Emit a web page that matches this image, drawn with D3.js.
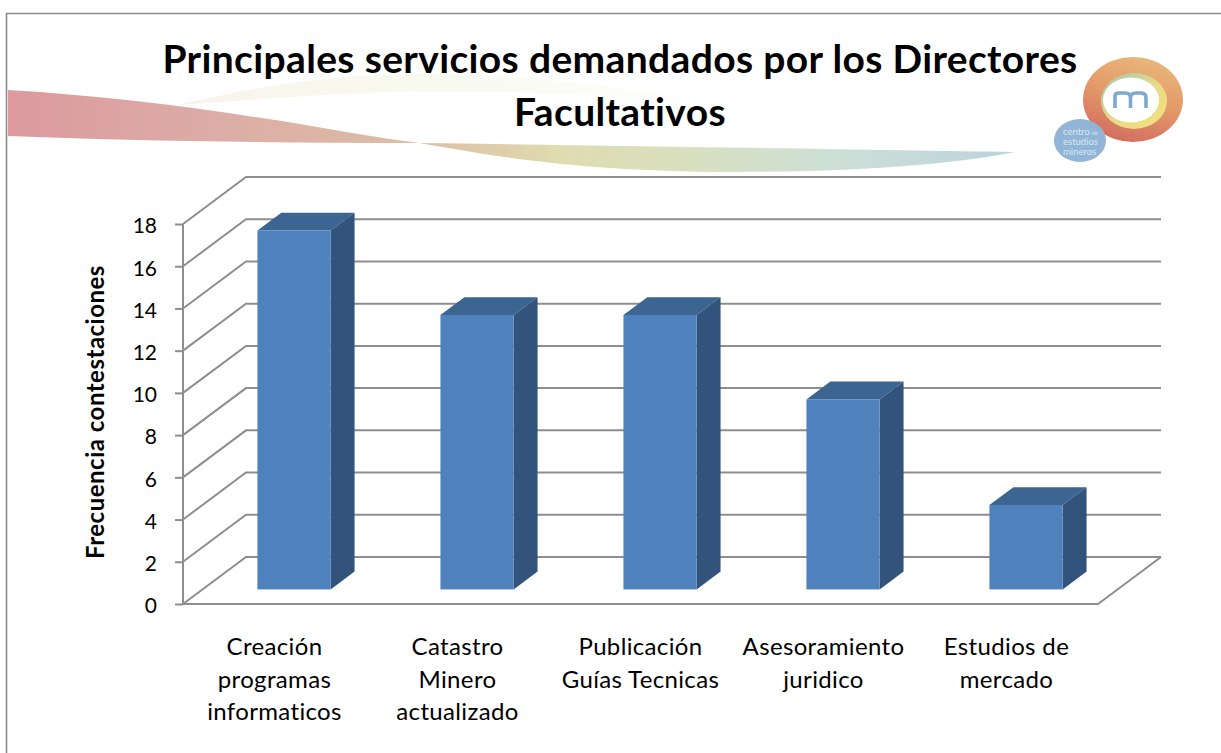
<!DOCTYPE html>
<html><head><meta charset="utf-8">
<style>html,body{margin:0;padding:0;background:#fff;overflow:hidden}svg{display:block}text{font-family:Lato,"Noto Sans",sans-serif;font-variant-ligatures:none}</style>
<script src="https://cdn.jsdelivr.net/npm/d3@7"></script>
</head><body>
<script>
const titleLines = ["Principales servicios demandados por los Directores","Facultativos"];
const yAxisTitle = "Frecuencia contestaciones";
const categories = [["Creación","programas","informaticos"],["Catastro","Minero","actualizado"],["Publicación","Guías Tecnicas"],["Asesoramiento","juridico"],["Estudios de","mercado"]];
const values = [17,13,13,9,4];
const yTicks = [0,2,4,6,8,10,12,14,16,18];
const logoLines = ["centro","estudios","mineros"];
const logoSmall = "de";

const W=1221,H=753;
const svg=d3.select("body").append("svg").attr("width",W).attr("height",H);
const defs=svg.append("defs");
function lg(id,stops,x2=1,y2=0,x1=0,y1=0){const g=defs.append("linearGradient").attr("id",id).attr("x1",x1).attr("y1",y1).attr("x2",x2).attr("y2",y2);stops.forEach(s=>g.append("stop").attr("offset",s[0]).attr("stop-color",s[1]));}
lg("rib",[[0,"#dc9a9e"],[.2,"#dcaca6"],[.4,"#ddbca4"],[.55,"#dfdcb0"],[.68,"#d8e0c0"],[.82,"#cddfd6"],[1,"#bcd3de"]]);
lg("pale",[[0,"#f8f4ec"],[.5,"#f8faf0"],[1,"#fdfefa"]]);
lg("ring",[[0,"#e9b57a"],[.45,"#e39a68"],[1,"#d26a60"]],.25,1,.6,0);
lg("inner",[[0,"#a8c8b0"],[.5,"#e8da88"],[1,"#f2e27c"]],1,1,.1,0);

// frame
svg.append("path").attr("d",`M6.5,${H} V13.5 H${W}`).attr("fill","none").attr("stroke","#8a8a8a").attr("stroke-width",1.6);

// background ribbon
svg.append("path").attr("fill","url(#pale)").attr("d","M178,105 C250,88 320,76 400,74 C500,72 600,84 700,100 C600,95 500,90 400,92 C320,94 250,100 178,105 Z");
svg.append("path").attr("fill","url(#rib)").attr("d","M8,90 C110,96 200,108 300,124 C340,131 380,138 419,143 C470,151 560,172 735,172 C850,172 950,165 1015,152 C880,150 650,146 419,143 C280,143 130,141 8,136 Z");

// logo
const logo=svg.append("g");
logo.append("ellipse").attr("cx",1133).attr("cy",99.5).attr("rx",50).attr("ry",42.5).attr("fill","url(#ring)");
logo.append("ellipse").attr("cx",1134).attr("cy",101).attr("rx",33).attr("ry",28).attr("fill","url(#inner)");
logo.append("ellipse").attr("cx",1131).attr("cy",100).attr("rx",28).attr("ry",22.5).attr("fill","#fff");
logo.append("path").attr("fill","none").attr("stroke","#7ea9cf").attr("stroke-width",3.6)
 .attr("d","M1115,108 V96 Q1115,93 1119,93 H1125 Q1130.5,93 1130.5,98 V108 M1130.5,98 Q1130.5,93 1136,93 H1141 Q1146,93 1146,98 V108");
logo.append("ellipse").attr("cx",1080).attr("cy",140.5).attr("rx",26).attr("ry",21.5).attr("fill","#90b5d6");
logo.selectAll("text.l").data(logoLines).join("text").attr("class","l").attr("x",1063).attr("y",(d,i)=>135+i*10).attr("font-size",9.5).attr("fill","#d8e6f2").text(d=>d);
logo.append("text").attr("x",1092).attr("y",135).attr("font-size",5).attr("fill","#d8e6f2").text(logoSmall);

// scales
const x=d3.scaleBand().domain(d3.range(values.length)).range([183,1098]).paddingInner(.6).paddingOuter(.3);
const y=d3.scaleLinear().domain([0,18]).range([604,224]);
const depthX=63,depthY=47,floorNear=.31,floorFar=.69;
const gridColor="#8e8e8e";

// grid walls
const plot=svg.append("g");
plot.selectAll("path.g").data(yTicks).join("path").attr("class","g").attr("fill","none").attr("stroke",gridColor).attr("stroke-width",2)
 .attr("d",t=>d3.line()([[x.range()[0],y(t)],[x.range()[0]+depthX,y(t)-depthY],[x.range()[1]+depthX,y(t)-depthY]]));
// floor front and right edge
plot.append("path").attr("fill","none").attr("stroke",gridColor).attr("stroke-width",2)
 .attr("d",d3.line()([[x.range()[0],y(0)],[x.range()[1],y(0)],[x.range()[1]+depthX,y(0)-depthY]]));

// y axis
const ax=svg.append("g").attr("transform",`translate(${x.range()[0]},0)`).call(d3.axisLeft(y).tickValues(yTicks).tickSize(8).tickPadding(18).tickFormat(d3.format("d")));
ax.selectAll("path,line").attr("stroke",gridColor).attr("stroke-width",2);
ax.select("path.domain").attr("d",`M0,${y(18)}V${y(0)}`);
ax.selectAll("text").attr("font-size",21).attr("fill","#000").style("font-family","Lato").attr("dy","0.42em");

// bars
const bars=svg.append("g").selectAll("g").data(values).join("g");
const X0=i=>x(i)+depthX*floorNear, Y0=v=>y(v)-depthY*floorNear;
const dx=depthX*(floorFar-floorNear), dy=depthY*(floorFar-floorNear);
const base=Y0(0);
bars.append("path").attr("fill","#3d6591").attr("d",(v,i)=>{const a=X0(i),w=x.bandwidth(),t=Y0(v);return d3.line()([[a,t],[a+dx,t-dy],[a+w+dx,t-dy],[a+w,t]])+"Z";});
bars.append("path").attr("fill","#32547c").attr("d",(v,i)=>{const a=X0(i)+x.bandwidth(),t=Y0(v);return d3.line()([[a,t],[a+dx,t-dy],[a+dx,base-dy],[a,base]])+"Z";});
bars.append("rect").attr("fill","#4f81bd").attr("x",(v,i)=>X0(i)).attr("y",v=>Y0(v)).attr("width",x.bandwidth()).attr("height",v=>base-Y0(v));

// category labels
const cat=svg.append("g").selectAll("text").data(categories).join("text").attr("text-anchor","middle").attr("font-size",24).attr("letter-spacing",.35).attr("fill","#000");
cat.selectAll("tspan").data((d,i)=>d.map(s=>({s,i}))).join("tspan").attr("x",d=>x(d.i)+x.bandwidth()/2).attr("y",(d,j)=>655+j*32.5).text(d=>d.s);

// titles
svg.append("g").selectAll("text").data(titleLines).join("text").attr("x",620).attr("y",(d,i)=>73+i*52.5).attr("text-anchor","middle").attr("font-size",39).attr("letter-spacing",.35).attr("font-weight",700).attr("fill","#000").text(d=>d);
svg.append("text").attr("transform","translate(104,412) rotate(-90)").attr("text-anchor","middle").attr("font-size",24).attr("letter-spacing",.5).attr("font-weight",700).attr("fill","#000").text(yAxisTitle);
</script>
</body></html>
